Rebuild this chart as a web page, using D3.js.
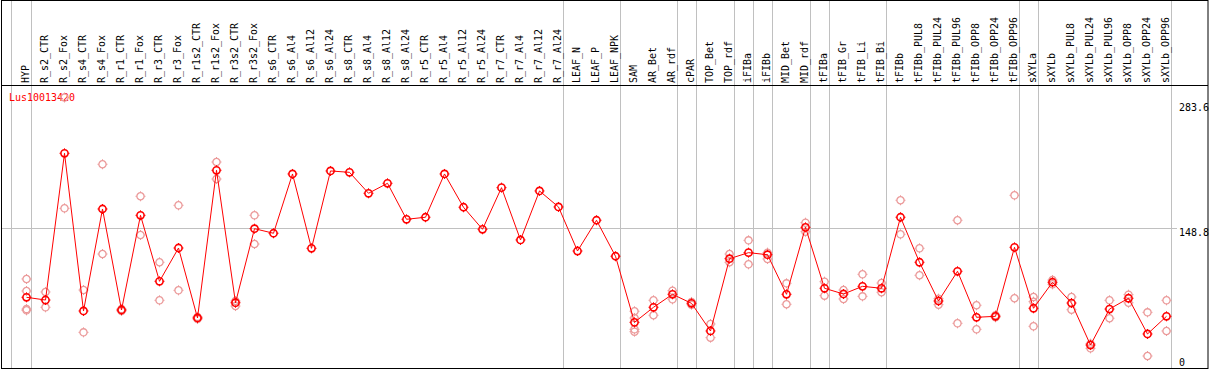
<!DOCTYPE html>
<html>
<head>
<meta charset="UTF-8">
<title>Lus10013420</title>
<script src="https://d3js.org/d3.v7.min.js"></script>
<style>
  body { margin: 0; background: #fff; }
  text { font-family: "DejaVu Sans Mono", monospace; font-size: 11px; }
</style>
</head>
<body>
<svg width="1209" height="370"></svg>
<script>
const geneId = "Lus10013420";

const categories = ["HYP", "R_s2_CTR", "R_s2_Fox", "R_s4_CTR", "R_s4_Fox", "R_r1_CTR", "R_r1_Fox",
  "R_r3_CTR", "R_r3_Fox", "R_r1s2_CTR", "R_r1s2_Fox", "R_r3s2_CTR", "R_r3s2_Fox",
  "R_s6_CTR", "R_s6_Al4", "R_s6_Al12", "R_s6_Al24", "R_s8_CTR", "R_s8_Al4", "R_s8_Al12", "R_s8_Al24",
  "R_r5_CTR", "R_r5_Al4", "R_r5_Al12", "R_r5_Al24", "R_r7_CTR", "R_r7_Al4", "R_r7_Al12", "R_r7_Al24",
  "LEAF_N", "LEAF_P", "LEAF_NPK", "SAM", "AR_Bet", "AR_rdf", "cPAR", "TOP_Bet", "TOP_rdf",
  "iFIBa", "iFIBb", "MID_Bet", "MID_rdf", "tFIBa", "tFIB_Gr", "tFIB_Li", "tFIB_Bi", "tFIBb",
  "tFIBb_PUL8", "tFIBb_PUL24", "tFIBb_PUL96", "tFIBb_OPP8", "tFIBb_OPP24", "tFIBb_OPP96",
  "sXYLa", "sXYLb", "sXYLb_PUL8", "sXYLb_PUL24", "sXYLb_PUL96", "sXYLb_OPP8", "sXYLb_OPP24", "sXYLb_OPP96"];

// mean expression per sample
const means = [77.7, 74.9, 226.1, 63.6, 168.7, 64.6, 162.2, 94.2, 128.5, 56.4, 208.6, 72.1, 148.4,
  143.7, 204.8, 128.2, 207.9, 206.5, 184.9, 195.2, 158.1, 160.2, 204.8, 170.5, 147.8,
  190.7, 136.8, 187.3, 170.8, 125.4, 157.1, 120.0, 51.9, 67.4, 80.8, 71.5, 43.0, 117.5,
  123.7, 121.6, 80.8, 149.8, 87.0, 81.1, 89.0, 87.0, 160.2, 113.8, 73.9, 104.5, 57.1,
  58.1, 129.2, 66.4, 93.2, 71.8, 28.5, 65.6, 76.7, 39.9, 58.1];

// individual replicates per sample
const replicates = [
  [96.6, 84.2, 65.6, 64.3], [83.2, 67.4], [169.4, 283.6], [85.2, 41.6], [214.8, 122.3],
  [65.6, 63.6], [181.8, 141.9], [113.8, 74.6], [172.5, 84.9], [57.5, 55.3], [217.1, 199.6],
  [73.9, 68.7], [162.2, 132.6],
  [], [], [], [], [], [], [], [], [], [], [], [], [], [], [], [], [], [], [],
  [63.3, 56.4, 44.7, 42.3], [74.6, 59.2], [84.5, 75.6], [72.9, 70.1], [50.2, 36.1],
  [122.3, 113.8], [136.4, 111.7], [123.7, 117.2], [92.1, 70.5], [154.6, 145.3],
  [93.8, 79.4], [85.2, 76.0], [101.4, 78.7], [92.4, 82.9], [177.7, 142.6],
  [128.2, 100.4], [76.3, 70.1], [157.1, 50.9], [69.5, 44.7], [59.2, 57.1], [182.8, 76.7],
  [78.0, 73.2, 47.8], [95.5, 91.1], [78.0, 64.9], [29.9, 25.1], [74.6, 56.1],
  [80.4, 72.1], [62.2, 17.2], [74.6, 43.0]];

const yTicks = [0, 148.8, 283.6];
const yTickLabels = ["0", "148.8", "283.6"];
const yMax = 283.6;

// last sample of each group, a grey line follows it
const separatorsAfter = ["HYP", "R_r7_Al24", "LEAF_NPK", "AR_rdf", "cPAR", "TOP_rdf", "iFIBa",
  "iFIBb", "MID_rdf", "tFIBa", "tFIB_Bi", "tFIBb_OPP96", "sXYLa", "sXYLb_OPP96"];

const svg = d3.select("svg");
const W = 1209, H = 370;
const headerY = 85.5;

const x = d3.scaleBand().domain(categories).range([17, 1176]);
const cx = d => x(d) + x.bandwidth() / 2;
const y = d3.scaleLinear().domain([0, yMax]).range([372.7, 97.5]);

svg.append("rect").attr("width", W).attr("height", H).attr("fill", "#fff");

// grey separators
const seps = [x(categories[0]) - 6].concat(separatorsAfter.map(d => cx(d) + 4));
svg.selectAll(".sep").data(seps).enter().append("line")
  .attr("x1", d => Math.round(d) + 0.5).attr("x2", d => Math.round(d) + 0.5)
  .attr("y1", 0).attr("y2", 369)
  .attr("stroke", "#c0c0c0").attr("stroke-width", 1);

// horizontal grid at middle tick
svg.append("line")
  .attr("x1", 1).attr("x2", 1177)
  .attr("y1", Math.round(y(yTicks[1])) + 0.5).attr("y2", Math.round(y(yTicks[1])) + 0.5)
  .attr("stroke", "#c0c0c0");

// frame
svg.append("rect").attr("x", 1.5).attr("y", 0.5).attr("width", 1206.5).attr("height", 368)
  .attr("fill", "none").attr("stroke", "#000");
svg.append("line").attr("x1", 1).attr("x2", 1208).attr("y1", headerY).attr("y2", headerY)
  .attr("stroke", "#000");

// sample labels
svg.selectAll(".lab").data(categories).enter().append("text")
  .attr("transform", d => `translate(${cx(d) + 2},83) rotate(-90) scale(0.906,1)`)
  .attr("fill", "#000")
  .text(d => d);

// gene id
svg.append("text").attr("x", 9).attr("y", 101).attr("fill", "#ff0000")
  .attr("transform", "translate(9,0) scale(0.906,1) translate(-9,0)")
  .text(geneId);

// y labels
svg.selectAll(".ylab").data(yTicks).enter().append("text")
  .attr("x", 1179)
  .attr("y", d => Math.min(Math.max(y(d), 103), 358) + 8)
  .attr("fill", "#000")
  .attr("transform", "translate(1179,0) scale(0.906,1) translate(-1179,0)")
  .text((d, i) => yTickLabels[i]);

function marker(g, color, sw) {
  g.append("circle").attr("r", 3.6).attr("fill", "none").attr("stroke", color).attr("stroke-width", sw);
  g.append("path").attr("d", "M0,-5V-3.6M0,3.6V5M-5,0H-3.6M3.6,0H5")
    .attr("stroke", color).attr("stroke-width", 1);
}

// replicate points
const reps = [];
categories.forEach((c, i) => replicates[i].forEach(v => reps.push({ c, v })));
svg.selectAll(".rep").data(reps).enter().append("g")
  .attr("transform", d => `translate(${cx(d.c)},${y(d.v)})`)
  .each(function () { marker(d3.select(this), "#eb9a9a", 1.3); });

// mean line
svg.append("path")
  .datum(means)
  .attr("d", d3.line().x((d, i) => cx(categories[i])).y(d => y(d)))
  .attr("fill", "none").attr("stroke", "#ff0000").attr("stroke-width", 1);

svg.selectAll(".mean").data(means).enter().append("g")
  .attr("transform", (d, i) => `translate(${cx(categories[i])},${y(d)})`)
  .each(function () { marker(d3.select(this), "#ff0000", 1.6); });
</script>
</body>
</html>
